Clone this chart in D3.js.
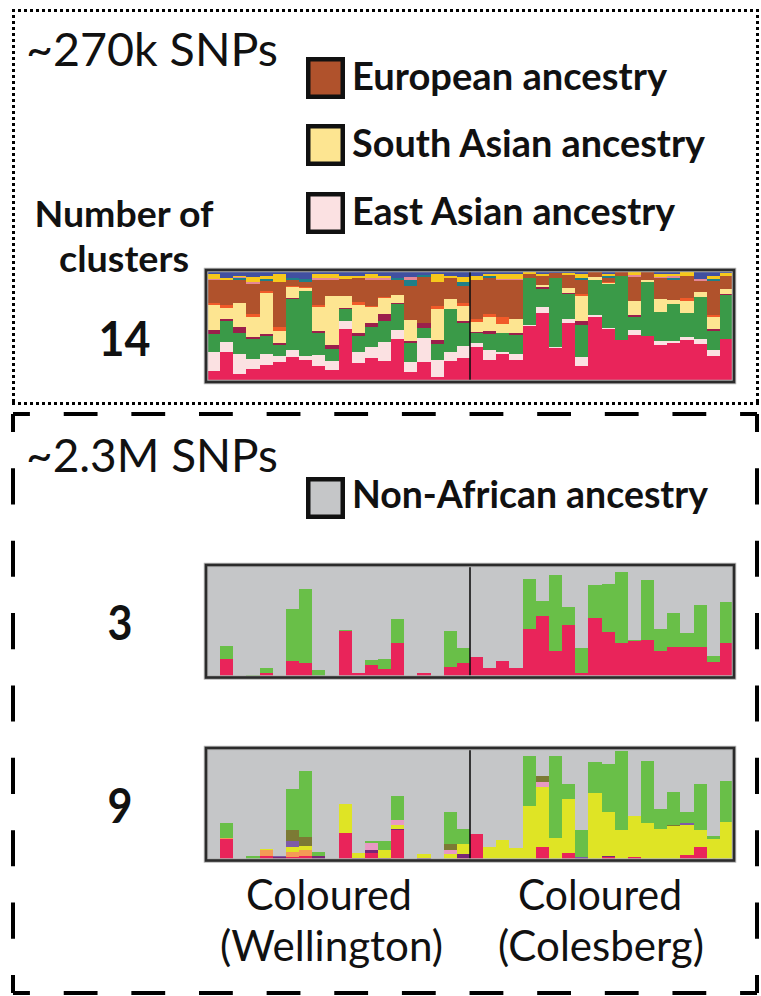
<!DOCTYPE html>
<html>
<head>
<meta charset="utf-8">
<script src="https://cdn.jsdelivr.net/npm/d3@7"></script>
<style>
  html, body { margin: 0; padding: 0; background: #fff; }
  svg { display: block; }
</style>
</head>
<body>
<script>
// ---- Individuals (20 per population) ----
const individuals = [
  "W01","W02","W03","W04","W05","W06","W07","W08","W09","W10",
  "W11","W12","W13","W14","W15","W16","W17","W18","W19","W20",
  "C01","C02","C03","C04","C05","C06","C07","C08","C09","C10",
  "C11","C12","C13","C14","C15","C16","C17","C18","C19","C20"
];
const populations = ["Coloured (Wellington)", "Coloured (Colesberg)"];
const popSizes = [20, 20];

// ---- ~270k SNPs, K = 14 : ancestry proportions (%) ----
const k14Red       = [9.0,25.9,6.6,10.8,14.5,16.9,21.7,18.7,13.9,10.2,47.6,16.3,21.1,18.1,38.6,7.8,17.5,3.6,18.1,21.1, 30.7,19.3,24.1,19.3,50.0,61.4,30.1,53.0,13.9,58.4,47.0,37.3,41.6,41.0,32.5,34.3,37.3,33.7,22.9,38.0];
const k14EastAsian = [17.5,9.6,17.5,9.0,10.2,5.4,6.6,4.2,9.6,7.8,6.6,10.2,9.6,17.5,7.8,9.6,21.7,15.7,8.4,10.8, 4.2,9.0,2.4,4.8,1.2,5.4,1.2,3.0,7.8,1.8,1.2,0,4.8,0,3.6,2.4,3.0,4.8,5.4,0];
const k14Green     = [16.3,19.3,19.6,18.1,16.3,10.8,46.4,59.0,20.5,10.8,10.8,14.5,18.1,19.3,23.5,17.5,9.0,13.9,39.2,20.5, 9.0,14.5,17.5,17.5,42.8,16.9,62.7,22.9,28.9,31.3,39.8,57.8,12.0,49.4,26.5,33.1,21.1,37.3,17.5,39.8];
const k14Maroon    = [3.6,1.8,5.1,2.4,1.8,1.8,0.6,0,1.8,3.6,1.2,2.4,3.6,6.0,1.2,1.8,4.2,4.2,0,2.4, 0.6,2.4,0,1.8,0,1.8,0,0.6,3.6,0,0,0,1.2,0,0,0,0.6,0,1.2,1.2];
const k14SouthAsian= [22.3,9.6,22.3,18.1,36.7,10.8,10.2,3.0,21.1,45.2,10.8,25.3,14.5,14.5,7.2,18.7,0,27.7,8.4,13.3, 9.0,13.3,7.8,13.3,0,1.8,0,5.4,23.5,3.0,1.2,0,13.3,1.2,12.0,4.2,10.8,4.8,11.4,4.8];
const k14Orange    = [1.8,3.0,0,2.4,2.4,3.0,1.2,0.6,2.4,0,0,3.0,1.2,1.2,0,0,0,3.0,0,3.0, 3.0,2.4,6.0,0,0,0,0,0,1.8,0,1.2,0,0,0,0,0,2.4,0,1.2,0];
const k14European  = [21.1,22.3,21.1,27.7,9.0,41.6,5.4,4.2,22.3,13.9,15.7,21.7,24.1,15.1,13.3,31.3,42.2,21.7,19.3,15.7, 34.9,32.5,33.7,34.9,3.6,7.8,4.2,11.4,12.7,5.4,3.0,4.8,21.7,8.4,19.3,17.5,20.5,10.2,31.3,11.4];
const k14Teal      = [0,0,1.2,0,1.8,0,1.8,3.0,0,0,0,0,0,0,2.4,4.8,1.8,0,0,3.0, 0,1.8,0,0,0,0,0,0,1.8,0,1.8,0,0,0,0,2.4,0,0,1.8,0];
const k14Salmon    = [1.2,0,1.2,1.8,0,0,0,0,1.8,1.8,0,0,1.8,1.8,0,3.0,0,0,0,0, 0,0,1.2,1.2,0,0,0,0,0,0,0,0,1.8,0,0.6,1.2,0,1.8,0,0];
const k14Gold      = [4.2,1.8,1.2,4.5,2.7,6.6,0,0,4.2,4.2,3.0,1.8,3.0,1.8,0,0,0,7.2,1.8,4.8, 3.6,2.4,4.8,4.8,2.4,1.8,0,1.8,3.0,0,1.8,0,2.4,0,2.4,1.8,3.0,0,3.0,3.0];
const k14Blue      = [3.0,6.6,4.2,5.1,4.5,3.0,6.0,7.2,2.4,2.4,4.2,4.8,3.0,4.8,6.0,5.4,3.6,3.0,4.8,5.4, 4.8,2.4,2.4,2.4,0,3.0,1.8,1.8,3.0,0,3.0,0,1.2,0,3.0,3.0,1.2,7.2,4.2,1.8];

// ---- ~2.3M SNPs, K = 3 ----
const k3Red   = [0,15.7,0,0,3.6,0.6,13.9,12.0,0.6,0,41.6,3.6,10.2,7.2,30.7,0,3.0,0,8.4,12.0, 17.5,7.8,13.9,7.8,43.4,54.8,22.9,46.4,3.0,53.0,40.4,30.1,32.5,33.1,23.5,26.5,26.5,26.5,13.3,30.1];
const k3Green = [0,12.0,0.9,1.5,4.2,0,47.0,66.9,5.4,0,0.6,0,4.8,8.4,21.1,0,0,0,33.1,13.9, 0,0,0,0,45.2,13.9,69.3,16.9,22.9,29.5,43.4,64.5,0.6,54.2,19.9,31.3,12.7,38.6,5.4,37.3];
const k3NonAfrican = [100,72.3,99.1,98.5,92.2,99.4,39.1,21.1,94.0,100,57.8,96.4,85.0,84.4,48.2,100,97.0,100,58.5,74.1, 82.5,92.2,86.1,92.2,11.4,31.3,7.8,36.7,74.1,17.5,16.2,5.4,66.9,12.7,56.6,42.2,60.8,34.9,81.3,32.6];

// ---- ~2.3M SNPs, K = 9 ----
const k9Red    = [0,18.7,0,0,3.6,0,2.4,3.0,0,0,24.1,0.6,6.0,0,26.5,0,0,0,0,1.2, 23.5,0,0,0,0,11.4,0,6.0,0,0,2.4,0.6,2.4,0,0,0,4.2,11.4,0,0];
const k9Purple = [0,0,0,0,0,2.4,0,0,3.0,0,0,1.2,3.0,1.2,1.2,0,1.8,0,0,3.6, 0,0,0,0,0,0,0,0,1.2,0,0.6,0,0,0.6,0,0,0,0,0,0];
const k9Orange = [0,1.2,0,0,4.8,0,4.8,6.0,0,0,0,0,0,0,0,0,0,0,0,0, 0,0,0,0,0,0,0,0,0,0,0,0,0,0,0,0,0,0,0,0];
const k9Yellow = [0,0,0,0,1.2,0,4.2,3.6,0,0,26.5,4.2,0,7.8,3.6,0,3.0,0,4.8,9.0, 0,11.4,17.5,10.2,48.2,54.2,19.3,48.8,0,60.2,40.4,26.5,36.7,32.5,27.7,30.7,27.1,15.7,18.1,34.3];
const k9Pink   = [0,0,0,0,0,0,0,0,0,0,0,0,6.0,0,4.2,0,0,0,4.2,0, 0,0,0,0,0,4.2,0,0,0,0,0,0,0,0,0,0,0,0,0,0];
const k9Violet = [0,0,0,0,0,0.6,5.4,0,0,0,0,0,0,0,0,0,0,0,0,0, 0,0,0,0,0,0,0,0,1.2,0,0,0,0,0,0,0,1.8,0,0,0];
const k9Olive  = [0,0,0,0,0,0,9.6,7.8,0,0,0,0,0,0,0,0,0,0,5.4,0, 0,0,0,0,0,5.4,0,0,0,0,0,0,0,0,0,0.6,0,0,0,0];
const k9Green  = [0,12.7,0,3.6,0,0,37.3,59.6,3.6,0,0,0,1.8,7.8,22.3,0,0,0,28.3,13.9, 0,0,0,0,45.2,0,74.1,13.9,24.1,27.7,43.4,71.1,0,56.0,18.1,29.5,9.6,41.6,3.0,36.7];
const k9NonAfrican = [100,67.4,100,96.4,90.4,97.0,36.3,20.0,93.4,100,49.4,94.0,83.2,83.2,42.2,100,95.2,100,57.3,72.3, 76.5,88.6,82.5,89.8,6.6,24.8,6.6,31.3,73.5,12.1,13.2,1.8,60.9,10.9,54.2,39.2,57.3,31.3,78.9,29.0];

// ---- Legend entries ----
const legendTop = [
  { label: "European ancestry",    color: "#b0522c" },
  { label: "South Asian ancestry", color: "#fde591" },
  { label: "East Asian ancestry",  color: "#fbe1e2" }
];
const legendBottom = [{ label: "Non-African ancestry", color: "#c5c6c8" }];

// ---- Component definitions (bottom → top) ----
const k14Components = [
  ["red", k14Red, "#e9245a"],
  ["eastAsian", k14EastAsian, "#fbe1e2"],
  ["green", k14Green, "#3a9a48"],
  ["maroon", k14Maroon, "#9b1f4b"],
  ["southAsian", k14SouthAsian, "#fde591"],
  ["orange", k14Orange, "#f15a29"],
  ["european", k14European, "#b0522c"],
  ["teal", k14Teal, "#1f7f88"],
  ["salmon", k14Salmon, "#e58797"],
  ["gold", k14Gold, "#f7c81c"],
  ["blue", k14Blue, "#4150a0"]
];
const k3Components = [
  ["red", k3Red, "#e9245a"],
  ["green", k3Green, "#69bf48"],
  ["nonAfrican", k3NonAfrican, "#c5c6c8"]
];
const k9Components = [
  ["red", k9Red, "#e9245a"],
  ["purple", k9Purple, "#7a2677"],
  ["orange", k9Orange, "#f49a56"],
  ["yellow", k9Yellow, "#dfe425"],
  ["pink", k9Pink, "#e899c3"],
  ["violet", k9Violet, "#7e5ba7"],
  ["olive", k9Olive, "#7c7a34"],
  ["green", k9Green, "#69bf48"],
  ["nonAfrican", k9NonAfrican, "#c5c6c8"]
];

const W = 761, H = 996;
const svg = d3.select("body").append("svg")
  .attr("width", W).attr("height", H)
  .attr("viewBox", `0 0 ${W} ${H}`);

const FONT = "Lato, 'Open Sans', 'DejaVu Sans', sans-serif";

// Horizontal scale shared by all panels
const x = d3.scaleBand().domain(individuals).range([207, 733]).paddingInner(0).paddingOuter(0);

function drawPanel(components, top, bottom) {
  const keys = components.map(c => c[0]);
  const colors = Object.fromEntries(components.map(c => [c[0], c[2]]));
  const rows = individuals.map((id, i) => {
    const r = { id };
    components.forEach(([k, arr]) => { r[k] = arr[i]; });
    return r;
  });
  const series = d3.stack().keys(keys).offset(d3.stackOffsetExpand)(rows);
  const y = d3.scaleLinear().domain([0, 1]).range([bottom, top]);
  const xl = id => Math.round(x(id));
  const xr = id => Math.round(x(id) + x.bandwidth());

  const g = svg.append("g");
  g.selectAll("g.layer")
    .data(series)
    .join("g")
      .attr("class", "layer")
      .attr("fill", d => colors[d.key])
      .attr("shape-rendering", "crispEdges")
    .selectAll("rect")
    .data(d => d)
    .join("rect")
      .attr("x", d => xl(d.data.id))
      .attr("width", d => xr(d.data.id) - xl(d.data.id))
      .attr("y", d => y(d[1]))
      .attr("height", d => Math.max(0, y(d[0]) - y(d[1])));

  // population separator
  const sepX = Math.round(x(individuals[popSizes[0]]));
  g.append("line")
    .attr("x1", sepX).attr("x2", sepX)
    .attr("y1", top).attr("y2", bottom)
    .attr("stroke", "#111").attr("stroke-width", 1.6);

  // frame
  const x0 = x.range()[0] - 1, x1 = x.range()[1] + 1;
  g.append("rect")
    .attr("x", x0).attr("y", top - 1)
    .attr("width", x1 - x0).attr("height", bottom - top + 2)
    .attr("fill", "none").attr("stroke", "#b5b5b5").attr("stroke-width", 4.5);
  g.append("rect")
    .attr("x", x0).attr("y", top - 1)
    .attr("width", x1 - x0).attr("height", bottom - top + 2)
    .attr("fill", "none").attr("stroke", "#2b2b2b").attr("stroke-width", 2.6);
}

drawPanel(k14Components, 271, 381);
drawPanel(k3Components, 566, 676.5);
drawPanel(k9Components, 749, 859.5);

// ---- Boxes ----
// dotted box: square dots drawn side by side
function dottedSide(x1, y1, x2, y2) {
  svg.append("line")
    .attr("x1", x1).attr("y1", y1).attr("x2", x2).attr("y2", y2)
    .attr("stroke", "#000").attr("stroke-width", 3)
    .attr("stroke-dasharray", "3 3");
}
dottedSide(12, 10.5, 759, 10.5);
dottedSide(12, 403.5, 759, 403.5);
dottedSide(13.5, 9, 13.5, 405);
dottedSide(757.5, 9, 757.5, 405);

// dashed box, dashes aligned to corners on each side
function dashedSide(x1, y1, x2, y2, n) {
  const L = Math.hypot(x2 - x1, y2 - y1);
  const d = L / n / 2;
  svg.append("line")
    .attr("x1", x1).attr("y1", y1).attr("x2", x2).attr("y2", y2)
    .attr("stroke", "#000").attr("stroke-width", 4)
    .attr("stroke-dasharray", `${d} ${d}`)
    .attr("stroke-dashoffset", d / 2);
}
const bx0 = 13, bx1 = 757, by0 = 414, by1 = 993;
dashedSide(bx0, by0, bx1, by0, 11);
dashedSide(bx0, by1, bx1, by1, 11);
dashedSide(bx0, by0, bx0, by1, 8);
dashedSide(bx1, by0, bx1, by1, 8);

// ---- Text helper ----
function label(txt, xPos, yPos, size, weight, width, anchor = "start") {
  const t = svg.append("text")
    .attr("x", xPos).attr("y", yPos)
    .attr("font-family", FONT)
    .attr("font-size", size)
    .attr("font-weight", weight)
    .attr("fill", "#111")
    .attr("text-anchor", anchor)
    .text(txt);
  if (width) t.attr("textLength", width).attr("lengthAdjust", "spacingAndGlyphs");
  return t;
}

// titles
label("~270k SNPs", 26, 66, 47, 400, 252);
label("~2.3M SNPs", 26, 472, 47, 400, 252);

// legends
function legend(entries, y0s) {
  entries.forEach((e, i) => {
    const yTop = y0s[i];
    svg.append("rect")
      .attr("x", 306 + 2.25).attr("y", yTop + 2.25)
      .attr("width", 39 - 4.5).attr("height", 42 - 4.5)
      .attr("fill", e.color).attr("stroke", "#111").attr("stroke-width", 4.5);
  });
}
legend(legendTop, [57, 124, 192]);
legend(legendBottom, [477]);
label(legendTop[0].label, 352, 90, 38, 700, 315);
label(legendTop[1].label, 352, 157, 38, 700, 353);
label(legendTop[2].label, 352, 225, 38, 700, 323);
label(legendBottom[0].label, 352, 508, 38, 700, 356);

// cluster count labels
label("Number of", 124, 227, 37, 700, 179, "middle");
label("clusters", 124, 272, 37, 700, 130, "middle");
label("14", 124.5, 356, 47, 700, 52, "middle");
label("3", 120, 640, 47, 700, 25, "middle");
label("9", 120, 823, 47, 700, 25, "middle");

// population labels
const popNames = populations.map(p => {
  const m = p.match(/^(.*) (\(.*\))$/);
  return [m[1], m[2]];
});
label(popNames[0][0], 329, 910, 42, 400, 166, "middle");
label(popNames[0][1], 331.5, 961, 42, 400, 223, "middle");
label(popNames[1][0], 600, 910, 42, 400, 164, "middle");
label(popNames[1][1], 601, 961, 42, 400, 206, "middle");
</script>
</body>
</html>
